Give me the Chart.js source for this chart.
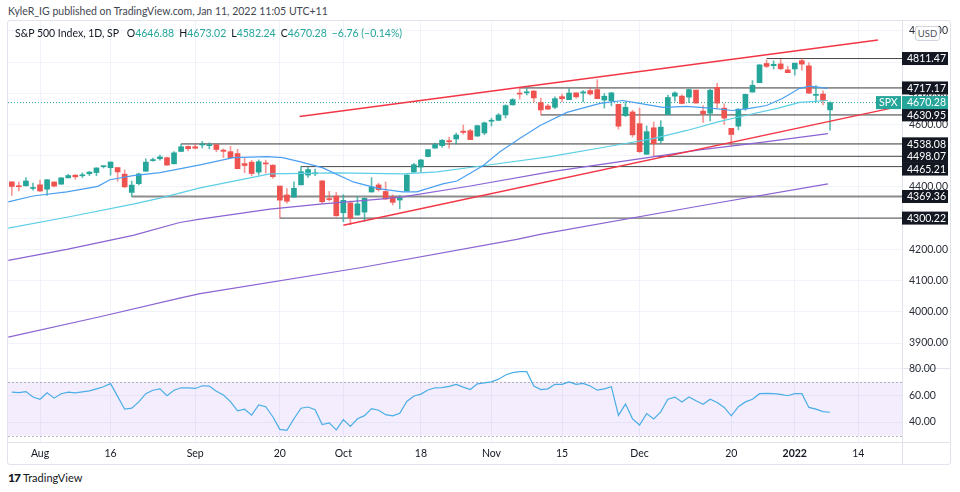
<!DOCTYPE html>
<html>
<head>
<meta charset="utf-8">
<script src="https://cdn.jsdelivr.net/npm/chart.js@4.4.0/dist/chart.umd.min.js"></script>
<style>
  body { margin: 0; width: 960px; height: 492px; background: #fff; position: relative; overflow: hidden; font-family: Lato, sans-serif; color: #131722; }
  .abs { position: absolute; }
  #hdr { left: 8px; top: 5px; font-size: 10.5px; color: #434651; white-space: nowrap; }
  #frame { left: 7px; top: 20px; width: 944px; height: 445px; border: 1px solid #e0e3eb; border-radius: 3px; box-sizing: border-box; }
  .sep { background: #e0e3eb; }
  #legend { left: 15px; top: 27px; font-size: 10.5px; white-space: nowrap; }
  #legend .v { color: #26a69a; margin-right: 5px; }
  #legend .t { margin-right: 5px; }
  #pricebox { left: 0; top: 20px; width: 960px; height: 348px; }
  #rsibox { left: 0; top: 360px; width: 960px; height: 110px; }
  #usd { left: 915px; top: 26px; width: 23px; height: 13px; background: #fff; border: 1px solid #d1d4dc; border-radius: 3px; font-size: 9.5px; color: #50535e; text-align: center; line-height: 13px; }
  #logo { left: 8px; top: 470px; font-size: 11px; color: #131722; white-space: nowrap; }
  #logo b { font-size: 12px; font-weight: 900; letter-spacing: -1px; margin-right: 3px; }
</style>
</head>
<body>
<div id="hdr" class="abs">KyleR_IG published on TradingView.com, Jan 11, 2022 11:05 UTC+11</div>
<div id="frame" class="abs"></div>
<div class="abs sep" style="left:902px;top:20px;width:1px;height:445px"></div>
<div class="abs sep" style="left:7px;top:368px;width:944px;height:1px"></div>
<div class="abs sep" style="left:7px;top:442px;width:944px;height:1px"></div>
<div id="pricebox" class="abs"><canvas id="price"></canvas></div>
<div id="rsibox" class="abs"><canvas id="rsi"></canvas></div>
<div id="legend" class="abs"></div>
<div id="usd" class="abs">USD</div>
<div id="logo" class="abs"><b>17</b>TradingView</div>
<script>
// trading days, 27 Jul 2021 .. 10 Jan 2022
const days = ['07-27','07-28','07-29','07-30',
  '08-02','08-03','08-04','08-05','08-06','08-09','08-10','08-11','08-12','08-13','08-16','08-17','08-18','08-19','08-20','08-23','08-24','08-25','08-26','08-27','08-30','08-31',
  '09-01','09-02','09-03','09-07','09-08','09-09','09-10','09-13','09-14','09-15','09-16','09-17','09-20','09-21','09-22','09-23','09-24','09-27','09-28','09-29','09-30',
  '10-01','10-04','10-05','10-06','10-07','10-08','10-11','10-12','10-13','10-14','10-15','10-18','10-19','10-20','10-21','10-22','10-25','10-26','10-27','10-28','10-29',
  '11-01','11-02','11-03','11-04','11-05','11-08','11-09','11-10','11-11','11-12','11-15','11-16','11-17','11-18','11-19','11-22','11-23','11-24','11-26','11-29','11-30',
  '12-01','12-02','12-03','12-06','12-07','12-08','12-09','12-10','12-13','12-14','12-15','12-16','12-17','12-20','12-21','12-22','12-23','12-27','12-28','12-29','12-30','12-31',
  '01-03','01-04','01-05','01-06','01-07','01-10'];

const opens = [4416.38,4402.95,4403.59,4395.12,
  4406.86,4392.74,4415.95,4408.86,4429.07,4437.77,4435.79,4442.18,4446.08,4464.84,4461.65,4462.12,4440.94,4382.44,4410.56,4450.29,4484.40,4490.45,4493.75,4474.10,4513.76,4529.75,
  4528.80,4534.48,4532.42,4535.38,4518.09,4513.02,4506.92,4474.81,4479.33,4447.49,4477.09,4469.74,4402.95,4374.45,4367.43,4406.75,4438.04,4442.12,4419.54,4362.41,4370.67,
  4317.16,4348.84,4309.87,4319.57,4383.73,4406.51,4385.44,4368.31,4358.01,4386.75,4447.69,4463.72,4497.34,4524.42,4532.24,4546.12,4553.69,4578.69,4580.22,4562.84,4572.87,
  4610.62,4613.34,4630.65,4662.93,4699.26,4701.48,4707.25,4670.26,4659.39,4655.24,4689.30,4679.42,4701.50,4700.72,4708.44,4712.00,4678.48,4675.78,4664.63,4628.75,4640.25,
  4602.82,4504.73,4589.49,4548.37,4631.97,4690.86,4691.00,4687.64,4710.30,4642.99,4636.46,4719.13,4652.50,4587.90,4594.96,4650.36,4703.96,4733.99,4795.49,4788.64,4794.23,4775.21,
  4778.14,4804.51,4787.99,4693.39,4697.66,4646.88];
const highs = [4416.38,4415.47,4429.97,4412.25,
  4422.18,4423.79,4416.17,4429.76,4440.82,4439.39,4445.21,4449.44,4461.77,4468.37,4480.26,4462.12,4454.32,4418.61,4444.35,4489.88,4492.81,4501.71,4495.90,4513.33,4537.36,4531.39,
  4537.11,4545.85,4541.45,4535.38,4521.79,4529.90,4520.47,4492.99,4485.68,4486.87,4485.87,4471.52,4402.95,4394.87,4416.75,4465.21,4463.12,4457.30,4419.54,4385.57,4382.55,
  4375.19,4355.51,4369.23,4365.57,4429.97,4412.02,4415.88,4374.89,4372.87,4439.73,4475.82,4488.75,4520.40,4540.87,4551.44,4559.67,4572.62,4598.53,4584.57,4597.55,4608.08,
  4620.34,4635.15,4663.46,4683.00,4717.17,4714.92,4708.53,4684.85,4664.55,4688.47,4697.42,4714.95,4701.50,4708.80,4717.75,4743.83,4699.39,4702.87,4664.63,4672.95,4646.02,
  4652.94,4595.46,4608.03,4612.60,4694.04,4705.06,4695.26,4713.57,4710.30,4660.47,4712.60,4731.99,4666.70,4587.90,4651.14,4697.67,4740.74,4791.49,4807.02,4804.06,4808.93,4786.83,
  4796.64,4811.47,4797.70,4725.01,4707.95,4673.02];
const lows = [4372.51,4387.01,4403.59,4389.65,
  4384.81,4373.00,4400.23,4408.86,4429.07,4424.74,4430.03,4436.42,4435.96,4460.82,4437.66,4417.83,4397.59,4369.36,4406.80,4450.29,4482.28,4485.66,4468.99,4474.10,4513.76,4515.80,
  4522.02,4524.66,4521.94,4513.00,4493.95,4492.07,4457.66,4445.70,4435.46,4438.37,4443.80,4427.76,4300.22,4347.96,4367.43,4406.75,4430.27,4436.19,4346.33,4355.08,4306.24,
  4288.52,4278.94,4309.87,4290.49,4383.73,4386.22,4360.59,4342.09,4329.92,4386.75,4447.69,4447.47,4496.41,4524.40,4526.89,4524.00,4537.36,4569.17,4551.66,4562.84,4567.59,
  4595.06,4613.34,4621.19,4662.59,4681.32,4694.39,4670.87,4630.95,4648.31,4650.42,4672.86,4679.42,4684.41,4672.78,4694.22,4682.17,4652.66,4659.89,4585.43,4625.26,4560.00,
  4510.27,4504.73,4498.07,4540.51,4631.97,4674.52,4665.98,4670.24,4667.60,4606.52,4611.22,4651.89,4600.22,4531.10,4583.16,4645.53,4703.96,4733.99,4782.12,4778.08,4775.33,4765.75,
  4758.17,4774.27,4699.44,4671.26,4662.74,4582.24];
const closes = [4401.46,4400.64,4419.15,4395.26,
  4387.16,4423.15,4402.66,4429.10,4436.52,4432.35,4436.75,4447.70,4460.83,4468.00,4479.71,4448.08,4400.27,4405.80,4441.67,4479.53,4486.23,4496.19,4470.00,4509.37,4528.79,4522.68,
  4524.09,4536.95,4535.43,4520.03,4514.07,4493.28,4458.58,4468.73,4443.05,4480.70,4473.75,4432.99,4357.73,4354.19,4395.64,4448.98,4455.48,4443.11,4352.63,4359.46,4307.54,
  4357.04,4300.46,4345.72,4363.55,4399.76,4391.34,4361.19,4350.65,4363.80,4438.26,4471.37,4486.46,4519.63,4536.19,4549.78,4544.90,4566.48,4574.79,4551.68,4596.42,4605.38,
  4613.67,4630.65,4660.57,4680.06,4697.53,4701.70,4685.25,4646.71,4649.27,4682.85,4682.80,4700.90,4688.67,4704.54,4697.96,4682.94,4690.70,4701.46,4594.62,4655.27,4567.00,
  4513.04,4577.10,4538.43,4591.67,4686.75,4701.21,4667.45,4712.02,4668.97,4634.09,4709.85,4668.67,4620.64,4568.02,4649.23,4696.56,4725.79,4791.19,4786.35,4793.06,4778.73,4766.18,
  4796.56,4793.54,4700.58,4696.05,4677.04,4670.28];

// moving averages: [bar index, value]
const sma20 = [[-0.5,4352],[3,4371],[7.8,4384],[12.2,4402],[13.9,4423],[17.2,4436],[21,4446],[26.7,4471],[31.4,4494],[36.2,4497],[38.4,4494],
  [40.8,4481],[44.1,4461],[48.4,4416],[52.2,4394],[55.4,4384],[57.4,4384],[61.1,4410],[63.1,4419],[66.8,4468],[69.2,4513],[72,4555],
  [74.9,4597],[78.7,4639],[83.4,4668],[86.6,4677],[89,4668],[92.3,4655],[95.7,4658],[99.4,4652],[102.2,4645],[104.6,4652],[107,4661],
  [109.3,4684],[111.7,4716],[113.1,4723],[115.7,4716]];
const sma50 = [[-0.5,4268],[7.8,4303],[17.2,4345],[21,4364],[26.7,4397],[36.6,4442],[46.1,4445],[55.4,4442],[60.3,4448],[66.8,4468],
  [76.3,4497],[85.2,4532],[90.9,4555],[95.7,4581],[100.4,4610],[104.6,4632],[108.5,4652],[111.7,4671],[115.7,4677]];
const sma100 = [[-0.5,4165],[7.8,4200],[17.2,4245],[23.8,4286],[26.7,4297],[36.6,4329],[43.7,4345],[52.2,4361],[55.4,4368],[65,4403],
  [76.3,4448],[90.4,4495],[97.5,4519],[106,4542],[115.7,4571]];
const sma200 = [[-0.5,3919],[12.5,3984],[23.8,4044],[26.7,4058],[49.4,4141],[71.6,4232],[74.9,4248],[97.5,4339],[115.7,4410]];

// horizontal levels and where each one starts
const levels = [4811.47, 4717.17, 4630.95, 4538.08, 4498.07, 4465.21, 4369.36, 4300.22];
const levelStart = [107, 72, 75, 24, 91, 41, 17, 38];
const levelDark = [true, false, false, false, true, true, false, true];

// channel trend lines: [bar index, value]
const trendUpper = [[40.8, 4626], [122.8, 4871]];
const trendLower = [[47, 4277], [125.2, 4655]];

// RSI(14)
const rsi = [62.2,61.9,62.7,58.6,57.0,61.7,57.8,61.1,62.2,61.7,
  62.4,63.2,64.7,66.3,68.6,59.1,49.6,50.4,55.0,61.1,
  63.7,64.7,59.6,63.7,65.5,65.5,65.0,67.0,66.8,62.9,
  60.1,55.2,48.3,49.6,45.2,52.7,51.4,44.0,34.6,33.8,
  42.5,50.3,51.2,49.2,38.2,39.4,34.2,41.8,36.8,42.5,
  44.8,50.0,48.8,45.5,44.6,46.6,55.3,59.4,60.8,63.9,
  65.5,65.6,66.5,68.0,66.0,64.2,68.4,69.1,69.9,71.9,
  75.0,76.8,77.5,77.5,66.8,64.2,64.7,68.1,68.1,69.9,
  68.1,68.8,66.8,63.7,64.7,66.3,45.0,53.4,42.4,37.8,
  46.3,42.4,47.6,57.0,58.6,55.0,58.6,55.8,53.2,57.0,
  54.5,50.9,44.7,51.4,55.0,57.0,61.1,61.4,61.1,60.6,
  59.6,61.1,61.1,50.9,49.6,47.8,47.3];

// x-axis labels (bar index -> text)
const tickIndex = [4, 14, 26, 38, 47, 58, 68, 78, 89, 102, 111, 120];
const tickText = ['Aug', '16', 'Sep', '20', 'Oct', '18', 'Nov', '15', 'Dec', '20', '2022', '14'];
const priceTicks = [3900, 4000, 4100, 4200, 4300, 4400, 4500, 4600, 4700, 4800, 4900];
const rsiTicks = [40, 60, 80];

Chart.defaults.font.family = 'Lato, sans-serif';
Chart.defaults.font.size = 11;
Chart.defaults.color = '#131722';
Chart.defaults.animation = false;

const X_MIN = -0.54, X_MAX = 126.2;
const GRID = '#f0f3fa';
const UP = '#26a69a', DOWN = '#ef5350';
const AXIS_FONT = { size: 10.5 };
const last = closes.length - 1;

// fixed-width right axis, no extra padding from edge labels
const fitRight = s => { s.width = 46; s.paddingTop = 0; s.paddingBottom = 0; };

// legend line
(function () {
  const chg = closes[last] - closes[last - 1];
  const pct = chg / closes[last - 1] * 100;
  const sgn = v => (v < 0 ? '\u2212' : '+') + Math.abs(v).toFixed(2);
  document.getElementById('legend').innerHTML =
    '<span class="t">S&amp;P 500 Index, 1D, SP</span> ' +
    'O<span class="v">' + opens[last].toFixed(2) + '</span>' +
    'H<span class="v">' + highs[last].toFixed(2) + '</span>' +
    'L<span class="v">' + lows[last].toFixed(2) + '</span>' +
    'C<span class="v">' + closes[last].toFixed(2) + '</span>' +
    '<span class="v">' + sgn(chg) + ' (' + sgn(pct) + '%)</span>';
})();

const line = (pts, color, width, order, dash) => ({
  type: 'line',
  data: pts.map(([x, y]) => ({ x, y })),
  borderColor: color,
  borderWidth: width,
  borderDash: dash || [],
  pointRadius: 0,
  tension: 0,
  fill: false,
  order
});

const candleColor = days.map((d, i) => closes[i] >= opens[i] ? UP : DOWN);
const wickColor = days.map((d, i) => closes[i] >= opens[i] ? 'rgba(38,166,154,0.75)' : 'rgba(239,83,80,0.6)');

const levelTags = {
  id: 'levelTags',
  afterDraw(chart) {
    const { ctx, chartArea, scales: { y } } = chart;
    ctx.save();
    ctx.font = '10.5px Lato, sans-serif';
    ctx.textBaseline = 'middle';
    const tags = levels.map(v => ({ v, py: y.getPixelForValue(v) })).sort((a, b) => a.py - b.py);
    for (let k = 1; k < tags.length; k++) {
      if (tags[k].py - tags[k - 1].py < 12.6) tags[k].py = tags[k - 1].py + 12.6;
    }
    tags.forEach(t => {
      ctx.fillStyle = '#131722';
      ctx.fillRect(chartArea.right, t.py - 6.5, 46, 13);
      ctx.fillStyle = '#fff';
      ctx.fillText(t.v.toFixed(2), chartArea.right + 5, t.py + 0.5);
    });
    // last price tag
    const cy = y.getPixelForValue(closes[last]);
    ctx.fillStyle = UP;
    ctx.fillRect(chartArea.right - 26, cy - 6.5, 25, 13);
    ctx.fillRect(chartArea.right, cy - 6.5, 46, 13);
    ctx.fillStyle = '#fff';
    ctx.fillText('SPX', chartArea.right - 23, cy + 0.5);
    ctx.fillText(closes[last].toFixed(2), chartArea.right + 5, cy + 0.5);
    ctx.restore();
  }
};

new Chart(document.getElementById('price'), {
  type: 'bar',
  data: {
    datasets: [
      line(trendUpper, '#f23645', 1.5, 1),
      line(trendLower, '#f23645', 1.5, 1),
      line(sma20, '#4a9ff0', 1.2, 2),
      line(sma50, '#5ccfe6', 1.2, 2),
      line(sma100, '#8a63d2', 1.2, 2),
      line(sma200, '#8a63d2', 1.2, 2),
      {
        type: 'bar',
        data: days.map((d, i) => ({ x: i, y: [opens[i], closes[i]] })),
        backgroundColor: candleColor,
        barThickness: 5,
        minBarLength: 1,
        grouped: false,
        order: 3
      },
      {
        type: 'bar',
        data: days.map((d, i) => ({ x: i, y: [lows[i], highs[i]] })),
        backgroundColor: wickColor,
        barThickness: 1,
        grouped: false,
        order: 4
      },
      ...levels.map((v, k) => line([[levelStart[k], v], [X_MAX, v]],
        levelDark[k] ? 'rgba(40,40,40,0.85)' : 'rgba(120,120,120,0.85)', levelDark[k] ? 1 : 1.8, 5)),
      line([[X_MIN, closes[last]], [X_MAX, closes[last]]], UP, 1, 6, [1, 2])
    ]
  },
  options: {
    responsive: true,
    maintainAspectRatio: false,
    layout: { padding: { left: 8, right: 12, top: 1, bottom: 0 } },
    plugins: { legend: { display: false }, tooltip: { enabled: false } },
    scales: {
      x: {
        type: 'linear',
        min: X_MIN,
        max: X_MAX,
        offset: false,
        afterBuildTicks: s => { s.ticks = tickIndex.map(v => ({ value: v })); },
        afterFit: s => { s.height = 0; s.paddingLeft = 0; s.paddingRight = 0; },
        ticks: { display: false },
        grid: { color: GRID, drawTicks: false, offset: false },
        border: { display: false }
      },
      y: {
        position: 'right',
        min: 3819.9,
        max: 4931.7,
        afterBuildTicks: s => { s.ticks = priceTicks.map(v => ({ value: v })); },
        afterFit: fitRight,
        ticks: { padding: 7, color: '#2a2e39', font: AXIS_FONT, callback: v => v.toFixed(2) },
        grid: { color: GRID, drawTicks: false },
        border: { display: false }
      }
    }
  },
  plugins: [levelTags]
});

const rsiBand = {
  id: 'rsiBand',
  beforeDatasetsDraw(chart) {
    const { ctx, chartArea, scales: { y } } = chart;
    const top = y.getPixelForValue(70), bot = y.getPixelForValue(30);
    ctx.save();
    ctx.fillStyle = 'rgba(149,76,233,0.1)';
    ctx.fillRect(chartArea.left, top, chartArea.right - chartArea.left, bot - top);
    ctx.strokeStyle = 'rgba(120,123,134,0.55)';
    ctx.setLineDash([2, 2]);
    ctx.lineWidth = 1;
    [top, bot].forEach(py => {
      ctx.beginPath();
      ctx.moveTo(chartArea.left, Math.round(py) + 0.5);
      ctx.lineTo(chartArea.right, Math.round(py) + 0.5);
      ctx.stroke();
    });
    ctx.restore();
  }
};

new Chart(document.getElementById('rsi'), {
  type: 'line',
  data: {
    datasets: [{
      data: rsi.map((v, i) => ({ x: i, y: v })),
      borderColor: '#4aaee6',
      borderWidth: 1.2,
      pointRadius: 0,
      tension: 0,
      fill: false
    }]
  },
  options: {
    responsive: true,
    maintainAspectRatio: false,
    layout: { padding: { left: 8, right: 12, top: 8, bottom: 0 } },
    plugins: { legend: { display: false }, tooltip: { enabled: false } },
    scales: {
      x: {
        type: 'linear',
        min: X_MIN,
        max: X_MAX,
        afterBuildTicks: s => { s.ticks = tickIndex.map(v => ({ value: v })); },
        afterFit: s => { s.height = 28; s.paddingLeft = 0; s.paddingRight = 0; },
        ticks: {
          autoSkip: false,
          maxRotation: 0,
          padding: 5,
          color: '#131722',
          font: c => ({ size: 10.5, weight: c.tick && c.tick.value === 111 ? 'bold' : 'normal' }),
          callback: v => tickText[tickIndex.indexOf(v)] ?? ''
        },
        grid: { color: GRID, drawTicks: false },
        border: { display: false }
      },
      y: {
        position: 'right',
        min: 25.2,
        max: 80.2,
        afterBuildTicks: s => { s.ticks = rsiTicks.map(v => ({ value: v })); },
        afterFit: fitRight,
        ticks: { padding: 7, color: '#2a2e39', font: AXIS_FONT, callback: v => v.toFixed(2) },
        grid: { color: GRID, drawTicks: false },
        border: { display: false }
      }
    }
  },
  plugins: [rsiBand]
});
</script>
</body>
</html>
